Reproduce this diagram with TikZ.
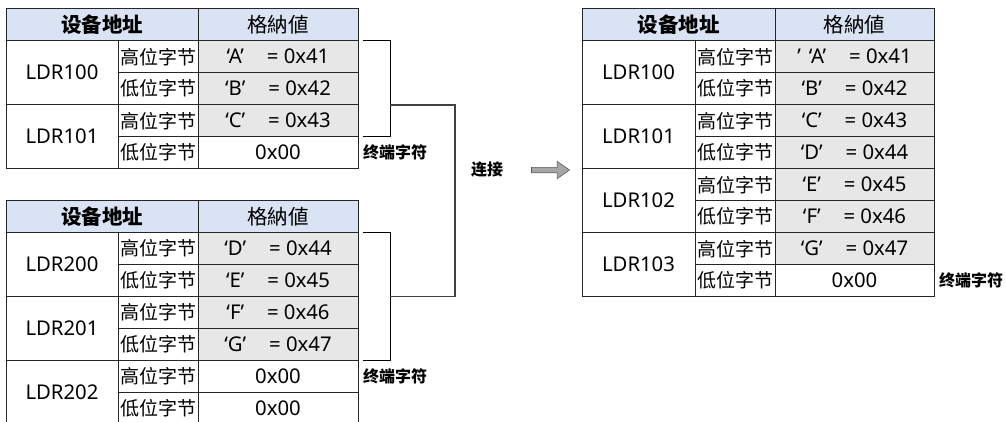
\documentclass[tikz,border=0pt]{standalone}
\usepackage{fontspec}
\setmainfont{Noto Sans}
\newfontfamily\cjk{Noto Sans CJK SC}
\usetikzlibrary{positioning, shapes.arrows}

\definecolor{headblue}{RGB}{218,227,243}
\definecolor{cellgray}{RGB}{231,231,231}

% carattere + codice
\newcommand{\qv}[2]{‘#1’\hspace{23pt}= 0x#2}

\begin{document}
\begin{tikzpicture}[x=1pt, y=-1pt]
    \tikzset{cell/.style={rectangle, draw=black!85, line width=0.9pt, inner sep=0pt, outer sep=0pt, minimum height=32pt, anchor=north west, font=\fontsize{20.3}{22}\selectfont}}
    \tikzset{head/.style={cell, fill=headblue, font=\cjk\fontsize{20.5}{22}\selectfont}}
    \tikzset{headbold/.style={head, font=\cjk\fontsize{20.5}{22}\selectfont\bfseries}}
    \tikzset{addrcell/.style={cell, minimum width=112pt, minimum height=64pt}}
    \tikzset{bytecell/.style={cell, minimum width=80pt, font=\cjk\fontsize{19}{21}\selectfont}}
    \tikzset{valcell/.style={cell, minimum width=160pt}}
    \tikzset{stored/.style={fill=cellgray}}
    \tikzset{note/.style={inner sep=0pt, font=\cjk\fontsize{16}{18}\selectfont\bfseries}}
    \tikzset{brk/.style={draw=black, line width=0.8pt}}
    \tikzset{joinline/.style={draw=black!75, line width=1.6pt}}

    \useasboundingbox (0,0) rectangle (1006,421);

    % ── TABELLA 1 ────────────────────────────────────────
    \node[headbold, minimum width=192pt] (t1h1) at (6, 8.7) {设备地址};
    \node[head, minimum width=160pt] (t1h2) at (198, 8.7) {格納値};

    \foreach \addr [count=\i from 0] in {LDR100,LDR101} {
        \node[addrcell] (t1a\i) at (6, 40.7+64*\i) {\addr};
    }
    \foreach \b [count=\i from 0] in {高位字节,低位字节,高位字节,低位字节} {
        \node[bytecell] (t1b\i) at (118, 40.7+32*\i) {\b};
    }
    \foreach \ch/\hex [count=\i from 0] in {A/41,B/42,C/43} {
        \node[valcell, stored] (t1v\i) at (198, 40.7+32*\i) {\qv{\ch}{\hex}};
    }
    \node[valcell] (t1v3) at (198, 136.7) {0x00};
    \node[note, right=5pt of t1v3] (t1end) {终端字符};

    % ── TABELLA 2 ────────────────────────────────────────
    \node[headbold, minimum width=192pt] (t2h1) at (6, 200.3) {设备地址};
    \node[head, minimum width=160pt] (t2h2) at (198, 200.3) {格納値};

    \foreach \addr [count=\i from 0] in {LDR200,LDR201,LDR202} {
        \node[addrcell] (t2a\i) at (6, 232.3+64*\i) {\addr};
    }
    \foreach \b [count=\i from 0] in {高位字节,低位字节,高位字节,低位字节,高位字节,低位字节} {
        \node[bytecell] (t2b\i) at (118, 232.3+32*\i) {\b};
    }
    \foreach \ch/\hex [count=\i from 0] in {D/44,E/45,F/46,G/47} {
        \node[valcell, stored] (t2v\i) at (198, 232.3+32*\i) {\qv{\ch}{\hex}};
    }
    \node[valcell] (t2v4) at (198, 360.3) {0x00};
    \node[valcell] (t2v5) at (198, 392.3) {0x00};
    \node[note, right=5pt of t2v4] (t2end) {终端字符};

    % ── PARENTESI E COLLEGAMENTO ─────────────────────────
    \draw[brk] ([xshift=5pt]t1v0.north east) -| ([xshift=32pt]t1v2.south east) -- ([xshift=5pt]t1v2.south east);
    \draw[brk] ([xshift=5pt]t2v0.north east) -| ([xshift=32pt]t2v3.south east) -- ([xshift=5pt]t2v3.south east);

    \coordinate (j1) at ([xshift=32pt]t1v1.south east);
    \coordinate (j2) at ([xshift=32pt]t2v1.south east);
    \draw[joinline] (j1) -- ++(65,0) |- (j2);

    \node[note] (concat) at (487, 170) {连接};
    \node[single arrow, draw=black!65, fill=black!35, line width=0.6pt, inner sep=2.4pt, minimum height=38pt,
          single arrow head extend=6pt, single arrow tip angle=70, right=28pt of concat] (arw) {};

    % ── TABELLA RISULTATO ────────────────────────────────
    \node[headbold, minimum width=193pt] (t3h1) at (582, 8.7) {设备地址};
    \node[head, minimum width=159pt] (t3h2) at (775, 8.7) {格納値};

    \foreach \addr [count=\i from 0] in {LDR100,LDR101,LDR102,LDR103} {
        \node[addrcell, minimum width=113pt] (t3a\i) at (582, 40.7+64*\i) {\addr};
    }
    \foreach \b [count=\i from 0] in {高位字节,低位字节,高位字节,低位字节,高位字节,低位字节,高位字节,低位字节} {
        \node[bytecell] (t3b\i) at (695, 40.7+32*\i) {\b};
    }
    \node[valcell, stored, minimum width=159pt] (t3v0) at (775, 40.7) {’\hspace{8pt}\qv{A}{41}};
    \foreach \ch/\hex [count=\i from 1] in {B/42,C/43,D/44,E/45,F/46,G/47} {
        \node[valcell, stored, minimum width=159pt] (t3v\i) at (775, 40.7+32*\i) {\qv{\ch}{\hex}};
    }
    \node[valcell, minimum width=159pt] (t3v7) at (775, 264.7) {0x00};
    \node[note, right=5pt of t3v7] (t3end) {终端字符};

\end{tikzpicture}
\end{document}
